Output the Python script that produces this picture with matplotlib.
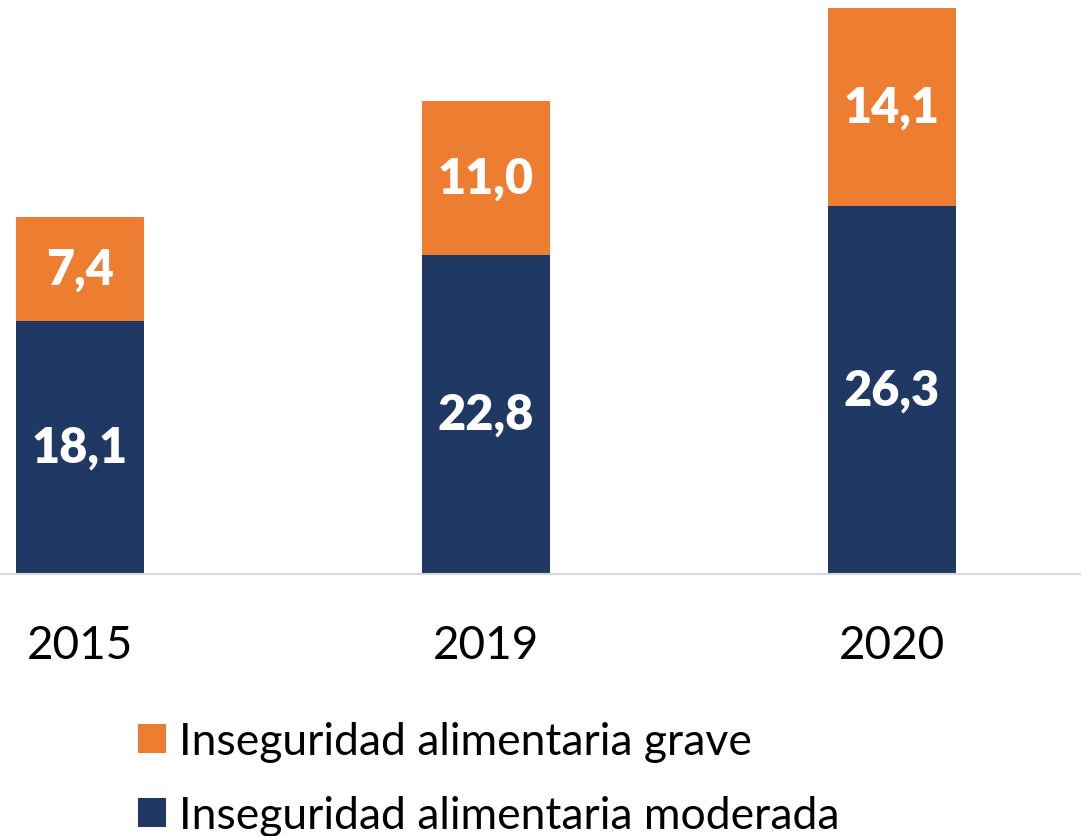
import matplotlib.pyplot as plt
import numpy as np

plt.rcParams['font.family'] = ['Lato', 'DejaVu Sans']

years = ["2015", "2019", "2020"]
moderada = [18.1, 22.8, 26.3]
grave = [7.4, 11.0, 14.1]

col_mod = "#203864"
col_grave = "#ED7D31"

fig = plt.figure(figsize=(10.81, 8.37), dpi=100)
ax = fig.add_axes([0, (837 - 575) / 837, 1, 575 / 837])

x = np.arange(len(years))
w = 128 / 406
b1 = ax.bar(x, moderada, w, color=col_mod, label="Inseguridad alimentaria moderada")
b2 = ax.bar(x, grave, w, bottom=moderada, color=col_grave, label="Inseguridad alimentaria grave")

for i in range(len(years)):
    ax.text(x[i], moderada[i] / 2, f"{moderada[i]:.1f}".replace(".", ","),
            ha="center", va="center", color="white", fontsize=35, fontweight="heavy")
    ax.text(x[i], moderada[i] + grave[i] / 2, f"{grave[i]:.1f}".replace(".", ","),
            ha="center", va="center", color="white", fontsize=35, fontweight="heavy")

ax.set_xlim(-80 / 406, (1081 - 80) / 406)
ax.set_ylim(0, 575 / 14)
ax.set_xticks(x)
ax.set_xticklabels(years, fontsize=33)
ax.tick_params(axis="x", length=0, pad=36)
ax.set_yticks([])
for s in ["top", "right", "left"]:
    ax.spines[s].set_visible(False)
ax.spines["bottom"].set_color("#d9d9d9")
ax.spines["bottom"].set_linewidth(1.5)

fig.legend([b2, b1], ["Inseguridad alimentaria grave", "Inseguridad alimentaria moderada"],
           loc="upper left", bbox_to_anchor=(138 / 1081, 1 - 722 / 837),
           frameon=False, fontsize=32, handlelength=0.62, handleheight=0.62,
           handletextpad=0.3, labelspacing=0.75, borderpad=0, borderaxespad=0)

fig.savefig("out.png", dpi=100)
